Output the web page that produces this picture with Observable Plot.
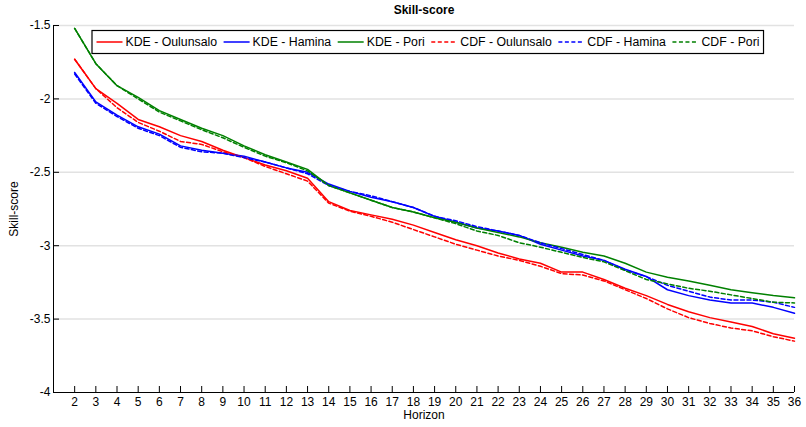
<!DOCTYPE html>
<html>
<head>
<meta charset="utf-8">
<script src="https://cdn.jsdelivr.net/npm/d3@7"></script>
<script src="https://cdn.jsdelivr.net/npm/@observablehq/plot@0.6"></script>
<style>
  html, body { margin: 0; padding: 0; background: #fff; }
  #chart svg { display: block; }
</style>
</head>
<body>
<div id="chart"></div>
<script>
// Forecast horizons (x axis categories)
const horizon = [2, 3, 4, 5, 6, 7, 8, 9, 10, 11, 12, 13, 14, 15, 16, 17, 18, 19,
  20, 21, 22, 23, 24, 25, 26, 27, 28, 29, 30, 31, 32, 33, 34, 35, 36];

// Skill-score per horizon, kernel density estimate
const kdeOulunsalo = [-1.73, -1.93, -2.03, -2.14, -2.19, -2.25, -2.29, -2.35, -2.40, -2.45,
  -2.49, -2.54, -2.70, -2.76, -2.79, -2.82, -2.86, -2.91, -2.96, -3.00, -3.05, -3.09, -3.12,
  -3.18, -3.18, -3.23, -3.29, -3.34, -3.40, -3.45, -3.49, -3.52, -3.55, -3.60, -3.63];
const kdeHamina = [-1.82, -2.02, -2.11, -2.19, -2.24, -2.32, -2.35, -2.37, -2.39, -2.43,
  -2.47, -2.50, -2.58, -2.63, -2.67, -2.70, -2.74, -2.80, -2.84, -2.88, -2.90, -2.93, -2.99,
  -3.03, -3.07, -3.10, -3.16, -3.21, -3.30, -3.34, -3.37, -3.39, -3.39, -3.42, -3.46];
const kdePori = [-1.52, -1.76, -1.91, -1.99, -2.08, -2.14, -2.20, -2.25, -2.32, -2.38,
  -2.43, -2.48, -2.59, -2.64, -2.69, -2.74, -2.77, -2.81, -2.84, -2.88, -2.91, -2.94, -2.98,
  -3.01, -3.045, -3.07, -3.12, -3.18, -3.215, -3.24, -3.27, -3.30, -3.32, -3.34, -3.355];

// Skill-score per horizon, empirical CDF
const cdfOulunsalo = [-1.73, -1.93, -2.06, -2.16, -2.22, -2.29, -2.31, -2.36, -2.40, -2.46,
  -2.51, -2.56, -2.71, -2.765, -2.80, -2.84, -2.89, -2.94, -2.99, -3.03, -3.07, -3.10, -3.14,
  -3.19, -3.20, -3.24, -3.30, -3.36, -3.43, -3.49, -3.53, -3.56, -3.58, -3.62, -3.65];
const cdfHamina = [-1.83, -2.03, -2.12, -2.20, -2.25, -2.33, -2.36, -2.37, -2.40, -2.43,
  -2.47, -2.51, -2.59, -2.63, -2.66, -2.70, -2.74, -2.80, -2.83, -2.87, -2.90, -2.93, -2.98,
  -3.02, -3.06, -3.10, -3.165, -3.21, -3.27, -3.31, -3.35, -3.37, -3.37, -3.385, -3.42];
const cdfPori = [-1.52, -1.76, -1.91, -2.00, -2.09, -2.15, -2.21, -2.265, -2.33, -2.39,
  -2.435, -2.49, -2.59, -2.64, -2.69, -2.74, -2.77, -2.81, -2.85, -2.90, -2.93, -2.98, -3.01,
  -3.045, -3.08, -3.11, -3.17, -3.23, -3.26, -3.29, -3.31, -3.335, -3.36, -3.385, -3.39];

const yTicks = [-4, -3.5, -3, -2.5, -2, -1.5];
const seriesNames = ["KDE - Oulunsalo", "KDE - Hamina", "KDE - Pori",
  "CDF - Oulunsalo", "CDF - Hamina", "CDF - Pori"];
const seriesValues = [kdeOulunsalo, kdeHamina, kdePori, cdfOulunsalo, cdfHamina, cdfPori];

// Line styles: red/blue/green per station, solid for KDE, dashed for CDF
const seriesColors = ["#ff0000", "#0000ff", "#008000", "#ff0000", "#0000ff", "#008000"];
const seriesDash = [null, null, null, "4,2.5", "4,2.5", "4,2.5"];

const W = 806, H = 427;
const margin = {top: 25, right: 12, bottom: 35, left: 53};
const innerW = W - margin.left - margin.right;
const innerH = H - margin.top - margin.bottom;
const FONT = "'Liberation Sans', Arial, Helvetica, sans-serif";

const lineMarks = seriesValues.map((vals, i) =>
  Plot.line(horizon.map((h, j) => ({h, v: vals[j]})), {
    x: "h", y: "v",
    stroke: seriesColors[i],
    strokeWidth: 1.5,
    strokeDasharray: seriesDash[i] ?? undefined,
    strokeLinejoin: "round"
  })
);

const chart = Plot.plot({
  width: W, height: H,
  marginTop: margin.top, marginRight: margin.right,
  marginBottom: margin.bottom, marginLeft: margin.left,
  style: {fontFamily: FONT, fontSize: "12px", color: "#000", background: "#fff", overflow: "visible"},
  x: {domain: [1, 36], label: null},
  y: {domain: [-4, -1.5], label: null},
  marks: [
    // horizontal grid
    Plot.ruleY(yTicks.filter(v => v > -4), {y: d => d, stroke: "#e2e2e2", strokeWidth: 1.5}),
    // axis labels without outward ticks
    Plot.axisX({ticks: horizon, tickSize: 0, tickPadding: 5, tickFormat: d => String(d), label: null, fontSize: 12}),
    Plot.axisY({ticks: yTicks, tickSize: 0, tickPadding: 3, tickFormat: d => String(d), label: null, fontSize: 12}),
    // inward tick marks
    Plot.tickX(horizon, {x: d => d, insetTop: innerH - 6, stroke: "#000"}),
    Plot.tickY(yTicks, {y: d => d, insetRight: innerW - 6, stroke: "#000"}),
    // axis lines
    Plot.ruleX([1], {stroke: "#000"}),
    Plot.ruleY([-4], {stroke: "#000"}),
    ...lineMarks,
    // titles
    Plot.text(["Skill-score"], {frameAnchor: "top", lineAnchor: "middle", dy: -15, fontSize: 12, fontWeight: "bold", text: d => d}),
    Plot.text(["Horizon"], {frameAnchor: "bottom", lineAnchor: "middle", dy: 23, fontSize: 12, text: d => d}),
    Plot.text(["Skill-score"], {frameAnchor: "left", dx: -39, rotate: -90, textAnchor: "middle", fontSize: 12, text: d => d})
  ]
});

document.getElementById("chart").appendChild(chart);

// Legend box across the top of the axes
const svg = d3.select(chart);
const legend = svg.append("g")
  .attr("font-family", FONT).attr("font-size", 12.3).attr("text-anchor", "start");
const box = legend.append("rect")
  .attr("fill", "#fff").attr("stroke", "#000").attr("stroke-width", 1.2);
const legendY = 42;
let x = 96.5;
seriesNames.forEach((name, i) => {
  legend.append("line")
    .attr("x1", x).attr("x2", x + 26)
    .attr("y1", legendY).attr("y2", legendY)
    .attr("stroke", seriesColors[i]).attr("stroke-width", 1.5)
    .attr("stroke-dasharray", seriesDash[i]);
  const t = legend.append("text")
    .attr("x", x + 29).attr("y", legendY).attr("dy", "0.35em")
    .attr("text-anchor", "start")
    .attr("fill", "#000").text(name);
  x = x + 29 + t.node().getComputedTextLength() + 6.5;
});
box.attr("x", 92).attr("y", 30.5).attr("width", x - 92 - 2.5).attr("height", 23);
</script>
</body>
</html>
